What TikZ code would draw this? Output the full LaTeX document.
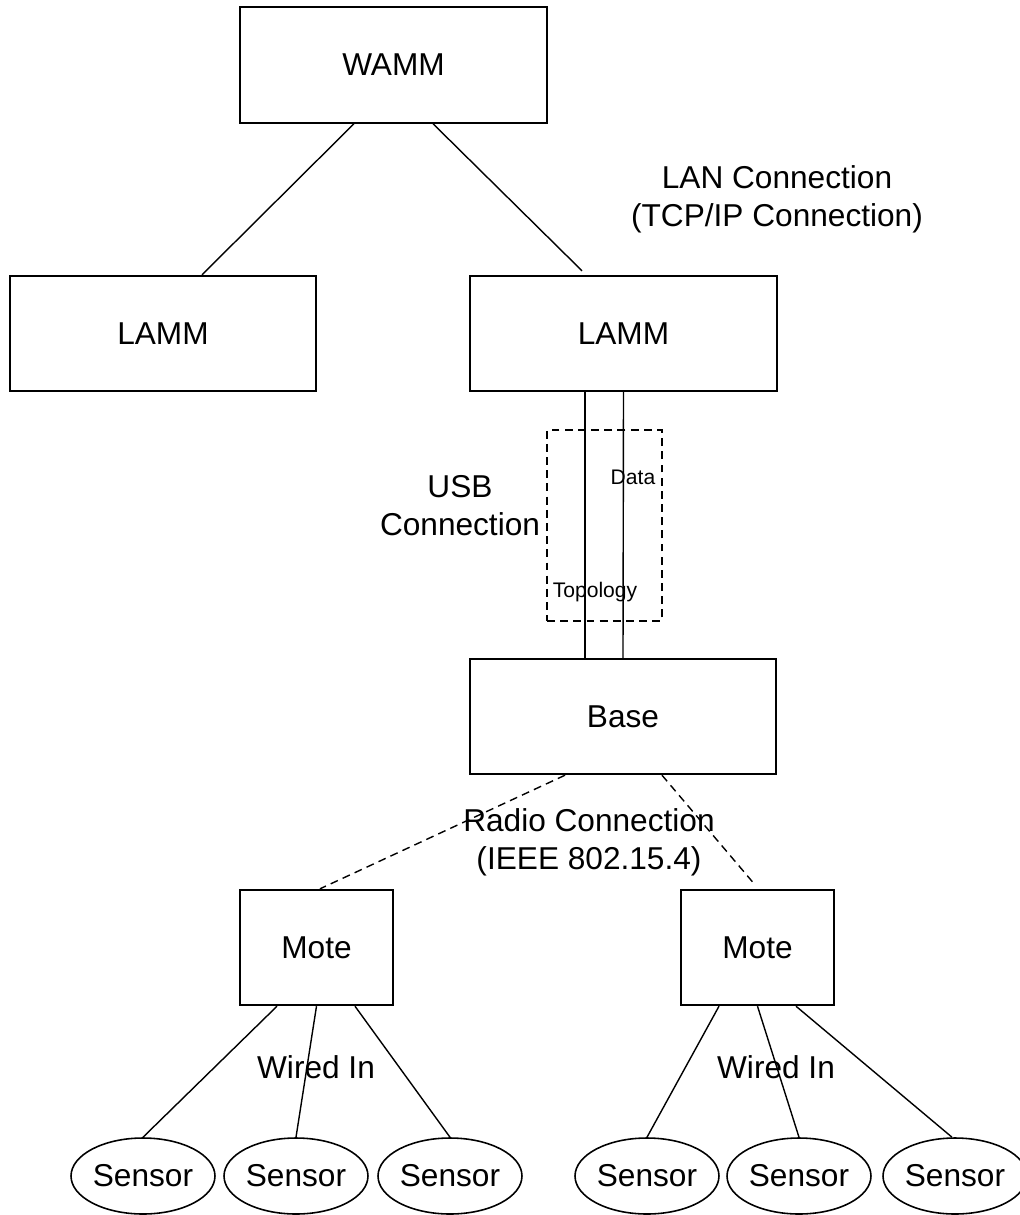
\documentclass[tikz,border=0pt]{standalone}
\usepackage{fontspec}
\setmainfont{Liberation Sans}
\usetikzlibrary{shapes.geometric, calc}

\begin{document}
\begin{tikzpicture}[
    x=0.02cm, y=-0.02cm,
    box/.style={rectangle, draw=black, line width=1.1pt, fill=white,
                minimum width=6.13cm, minimum height=2.31cm,
                font=\fontsize{18}{21.5}\selectfont, inner sep=0pt},
    motebox/.style={box, minimum width=3.06cm},
    sensor/.style={ellipse, draw=black, line width=0.9pt,
                   minimum width=2.88cm, minimum height=1.52cm,
                   font=\fontsize{18}{21.5}\selectfont, inner sep=0pt},
    wire/.style={-, line width=0.8pt, color=black},
    radio/.style={wire, dash pattern=on 4.5pt off 3pt},
    grpbox/.style={rectangle, draw=black, line width=0.8pt,
                   dash pattern=on 4.5pt off 3pt,
                   minimum width=2.3cm, minimum height=3.82cm, inner sep=0pt},
    lbl/.style={font=\fontsize{18}{21.5}\selectfont, align=center, inner sep=0pt},
    smalllbl/.style={font=\fontsize{12}{14}\selectfont, inner sep=0pt},
]
\useasboundingbox (0,0) rectangle (1019,1215);

% ======================================================
% Top: WAMM and the two LAMMs on the LAN
% ======================================================
\node[box] (wamm)  at (393.5,  65.0) {WAMM};
\node[box] (lamml) at (163.0, 333.5) {LAMM};
\node[box] (lammr) at (623.5, 333.5) {LAMM};

\draw[wire] ($(wamm.south)+(-39.5,0)$) -- ($(lamml.north)+(39,0)$);
\draw[wire] ($(wamm.south)+(39.5,0)$)  -- ($(lammr.north)+(-41.5,-4)$);

\node[lbl] (lan) at (777, 199) {LAN Connection\\(TCP/IP Connection)};

% ======================================================
% Middle: USB link between LAMM and base station
% ======================================================
\node[box] (base) at (623, 716.5) {Base};

\node[grpbox] (usbgrp) at (604.5, 525.5) {};
\draw[wire, line width=1pt] ($(lammr.south)+(-38.5,0)$) -- ($(base.north)+(-38,0)$);
\draw[wire] (lammr.south) -- (base.north);

\node[smalllbl] (data) at (633, 477) {Data};
\node[smalllbl] (topo) at (595, 592) {Topology};
\node[lbl] (usb) at (460, 505.5) {USB\\Connection};

% ======================================================
% Radio link down to the motes
% ======================================================
\node[motebox] (motel) at (316.5, 947.5) {Mote};
\node[motebox] (moter) at (757.5, 947.5) {Mote};

\draw[radio] ($(base.south)+(-58,0)$) -- ($(motel.north)+(3.5,0)$);
\draw[radio] ($(base.south)+(39,0)$)  -- ($(moter.north)+(-2.5,-4)$);

\node[lbl] (radiolbl) at (589, 842) {Radio Connection\\(IEEE 802.15.4)};

% ======================================================
% Bottom: sensors wired into each mote
% ======================================================
\foreach \x [count=\i] in {143, 296, 450, 647, 799, 955} {
    \node[sensor] (s\i) at (\x, 1176) {Sensor};
}

\draw[wire] ($(motel.south)+(-39.5,0)$) -- (s1.north);
\draw[wire] (motel.south) -- (s2.north);
\draw[wire] ($(motel.south)+(38.5,0)$)  -- (s3.north);
\draw[wire] ($(moter.south)+(-38.5,0)$) -- (s4.north);
\draw[wire] (moter.south) -- (s5.north);
\draw[wire] ($(moter.south)+(38.5,0)$)  -- ($(s6.north)+(-3,0)$);

\node[lbl] (wiredl) at (316, 1067) {Wired In};
\node[lbl] (wiredr) at (776, 1067) {Wired In};

\end{tikzpicture}
\end{document}
